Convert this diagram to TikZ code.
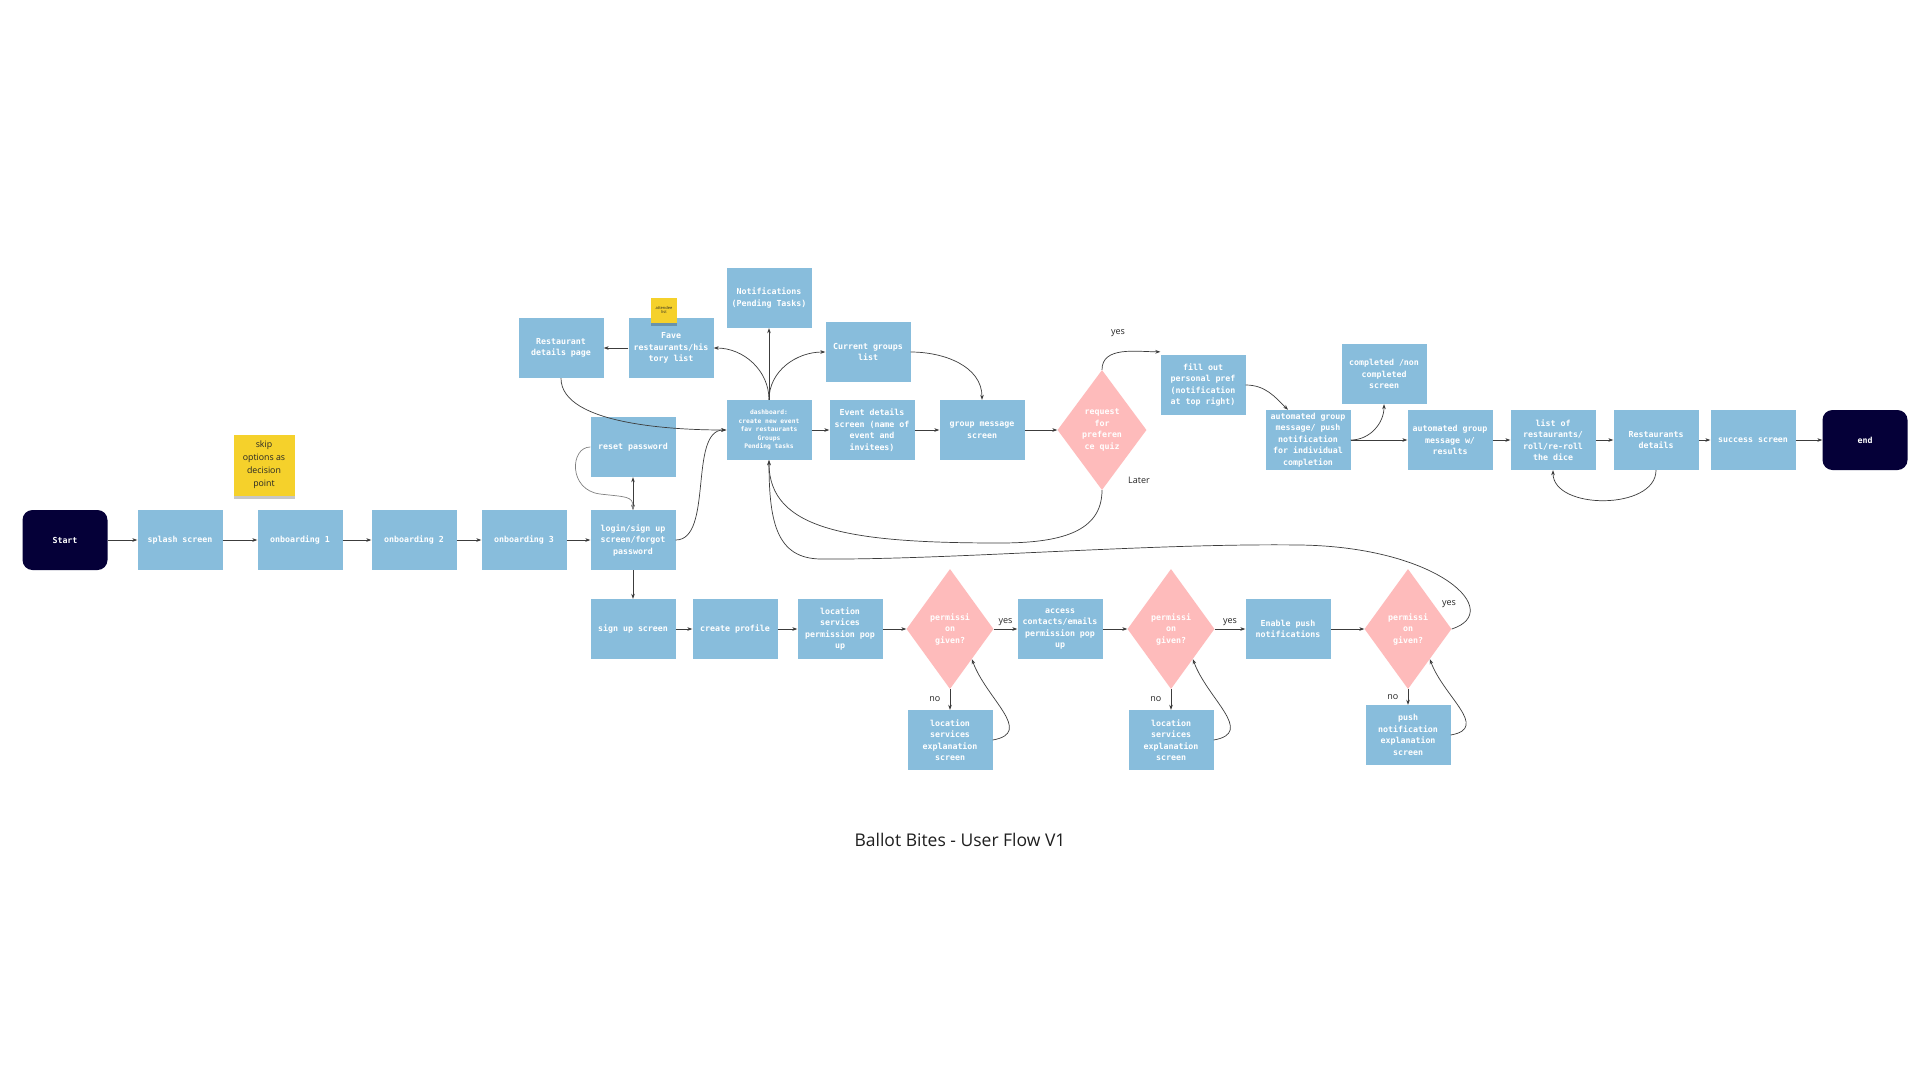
\documentclass[tikz,border=0pt]{standalone}
\usepackage{fontspec}
\setmainfont{Open Sans}
\newfontfamily\screenfont{DejaVu Sans Mono}
\usepackage{tikz}
\usetikzlibrary{shapes.geometric, arrows.meta, shadows}
\definecolor{ScreenBlue}{HTML}{88BDDC}
\definecolor{Navy}{HTML}{050038}
\definecolor{Blush}{HTML}{FEBBBB}
\definecolor{Sticky}{HTML}{F5D12B}
\definecolor{Wire}{HTML}{3C3C3C}

\begin{document}
\begin{tikzpicture}[x=1pt, y=1pt,
  screen/.style={rectangle, fill=ScreenBlue, minimum width=85pt, minimum height=60pt,
                 inner sep=2pt, align=center, text=white,
                 font=\screenfont\bfseries\fontsize{8.3}{11.5}\selectfont},
  terminal/.style={screen, fill=Navy, rounded corners=10pt},
  decision/.style={diamond, fill=Blush, minimum width=87pt, minimum height=120pt,
                   inner sep=1pt, align=center, text=white,
                   font=\screenfont\bfseries\fontsize{8.3}{11.5}\selectfont},
  sticky/.style={rectangle, fill=Sticky, align=center, text=black!85,
                 drop shadow={shadow xshift=0pt, shadow yshift=-3pt, opacity=0.22, fill=black}},
  flow/.style={draw=Wire, line width=0.7pt, >={Stealth[length=5pt, width=3.6pt]}, ->},
  answer/.style={font=\fontsize{9}{11}\selectfont, text=black!85}
]
\fill[white] (0,0) rectangle (1920,-1080);
\useasboundingbox (0,0) rectangle (1920,-1080);

% onboarding row
\node[terminal] (start) at (65,-540) {Start};
\node[screen] (splash) at (180,-540) {splash screen};
\node[screen] (ob1) at (300,-540) {onboarding 1};
\node[screen] (ob2) at (414,-540) {onboarding 2};
\node[screen] (ob3) at (524,-540) {onboarding 3};
\node[screen] (login) at (633,-540) {login/sign up\\screen/forgot\\password};
\node[screen] (reset) at (633,-447) {reset password};
\node[sticky, minimum width=61pt, minimum height=61pt, font=\fontsize{8.8}{13}\selectfont]
  (skipnote) at (264,-465) {skip\\options as\\decision\\point};

% sign up row
\node[screen] (signup) at (633,-629) {sign up screen};
\node[screen] (profile) at (735,-629) {create profile};
\node[screen] (locpop) at (840,-629) {location\\services\\permission pop\\up};
\node[decision] (permA) at (950,-629) {permissi\\on\\given?};
\node[screen] (contacts) at (1060,-629) {access\\contacts/emails\\permission pop\\up};
\node[decision] (permB) at (1171,-629) {permissi\\on\\given?};
\node[screen] (push) at (1288,-629) {Enable push\\notifications};
\node[decision] (permC) at (1408,-629) {permissi\\on\\given?};
\node[screen] (explA) at (950,-740) {location\\services\\explanation\\screen};
\node[screen] (explB) at (1171,-740) {location\\services\\explanation\\screen};
\node[screen] (explC) at (1408,-735) {push\\notification\\explanation\\screen};

% dashboard area
\node[screen, font=\screenfont\bfseries\fontsize{6.3}{8.6}\selectfont] (dash) at (769,-430)
  {dashboard:\\create new event\\fav restaurants\\Groups\\Pending tasks};
\node[screen] (notif) at (769,-298) {Notifications\\(Pending Tasks)};
\node[screen] (groups) at (868,-352) {Current groups\\list};
\node[screen] (fave) at (671,-348) {Fave\\restaurants/his\\tory list};
\node[sticky, minimum width=26pt, minimum height=25pt, inner sep=0pt,
      font=\fontsize{4}{4.6}\selectfont] (attendee) at (664,-310) {attendee\\list};
\node[screen] (restpage) at (561,-348) {Restaurant\\details page};
\node[screen] (event) at (872,-430) {Event details\\screen (name of\\event and\\invitees)};
\node[screen] (groupmsg) at (982,-430) {group message\\screen};
\node[decision, minimum width=89pt] (quiz) at (1102,-430) {request\\for\\preferen\\ce quiz};

% results row
\node[screen] (fill) at (1203,-385) {fill out\\personal pref\\(notification\\at top right)};
\node[screen] (auto) at (1308,-440) {automated group\\message/ push\\notification\\for individual\\completion};
\node[screen] (completed) at (1384,-374) {completed /non\\completed\\screen};
\node[screen] (results) at (1450,-440) {automated group\\message w/\\results};
\node[screen] (list) at (1553,-440) {list of\\restaurants/\\roll/re-roll\\the dice};
\node[screen] (restdet) at (1656,-440) {Restaurants\\details};
\node[screen] (success) at (1753,-440) {success screen};
\node[terminal] (finish) at (1865,-440) {end};

\node[font=\fontsize{17.5}{20}\selectfont, text=black!88] (title) at (960,-840) {Ballot Bites - User Flow V1};

% straight connectors
\foreach \a/\b in {start/splash, splash/ob1, ob1/ob2, ob2/ob3, ob3/login, login/signup,
                   signup/profile, profile/locpop, locpop/permA, contacts/permB, push/permC,
                   dash/notif, dash/event, event/groupmsg, groupmsg/quiz, fave/restpage,
                   auto/results, results/list, list/restdet, restdet/success, success/finish}
  \draw[flow] (\a) -- (\b);

\draw[flow, <->] (reset) -- (login);
\draw[flow, draw=gray] (reset.west) .. controls (570,-447) and (568,-490) .. (600,-494)
  .. controls (626,-497) and (633,-496) .. (login.north);
\draw[flow] (login.east) to[out=0, in=180, looseness=0.8] (dash.west);
\draw[flow] (restpage.south) to[out=-90, in=180, looseness=0.7] (dash.west);
\draw[flow] (dash.north) to[out=90, in=0] (fave.east);
\draw[flow] (dash.north) to[out=90, in=180] (groups.west);
\draw[flow] (groups.east) to[out=0, in=90] (groupmsg.north);

% quiz branches
\draw[flow] (quiz.north) to[out=90, in=180] ([yshift=3pt]fill.north west);
\node[answer] (quizyes) at (1118,-333) {yes};
\draw[flow] (quiz.south) .. controls +(0,-42) and +(60,0) .. (1000,-543)
  .. controls +(-150,0) and +(0,-70) .. (dash.south);
\node[answer] (quizlater) at (1139,-480) {Later};
\draw[flow] (fill.east) to[out=0, in=135] ([xshift=-20pt]auto.north);
\draw[flow] (auto.east) to[out=0, in=-90] (completed.south);
\draw[flow] (restdet.south) to[out=-90, in=-90] (list.south);

% permissions
\draw[flow] (permA) -- node[answer, above] {yes} (contacts);
\draw[flow] (permB) -- node[answer, above] {yes} (push);
\draw[flow] (permA) -- node[answer, left, xshift=-6pt] {no} (explA);
\draw[flow] (permB) -- node[answer, left, xshift=-6pt] {no} (explB);
\draw[flow] (permC) -- node[answer, left, xshift=-6pt] {no} (explC);
\draw[flow] (explA.east) to[out=10, in=-70, looseness=1.3] (permA.south east);
\draw[flow] (explB.east) to[out=10, in=-70, looseness=1.3] (permB.south east);
\draw[flow] (explC.east) to[out=10, in=-70, looseness=1.3] (permC.south east);
\draw[flow] (permC.east) .. controls (1505,-612) and (1440,-547) .. (1300,-545)
  .. controls (1150,-543) and (950,-560) .. (820,-559)
  .. controls (778,-558) and (769,-525) .. (dash.south);
\node[answer] (permCyes) at (1449,-604) {yes};
\end{tikzpicture}
\end{document}
